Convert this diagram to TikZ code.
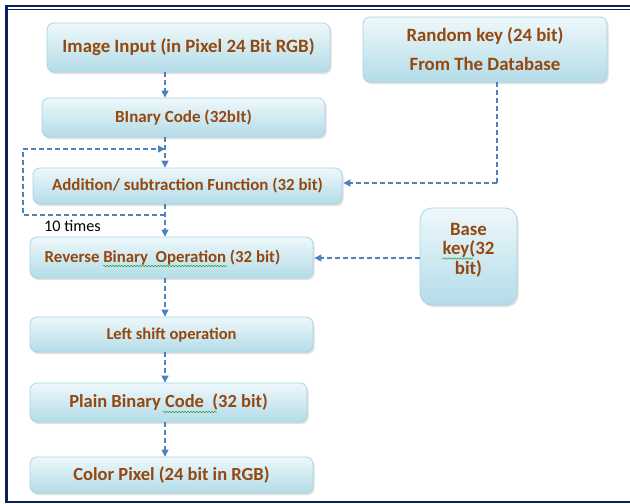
\documentclass[tikz,border=0pt]{standalone}
\usepackage{fontspec}
\setmainfont{Carlito}
\usetikzlibrary{shadows,arrows.meta,decorations.pathmorphing}
\definecolor{navy}{HTML}{0A1F5C}
\definecolor{txt}{HTML}{94470E}
\definecolor{arr}{HTML}{4F81BD}
\definecolor{boxtop}{HTML}{EEF8FB}
\definecolor{boxbot}{HTML}{B3DCE8}
\definecolor{boxedge}{HTML}{A9D5E2}
\definecolor{squig}{HTML}{3A9A3A}
\tikzset{
  flowbox/.style={draw=boxedge, line width=0.8pt, rounded corners=7pt,
    top color=boxtop, bottom color=boxbot,
    drop shadow={shadow xshift=1.5pt, shadow yshift=-2pt, opacity=0.25, fill=gray},
    text=txt, font=\bfseries, align=center, inner sep=0pt},
  flowarr/.style={draw=arr, line width=1.2pt, dash pattern=on 5pt off 3pt,
    -{Triangle[length=7pt,width=7pt]}},
  flowline/.style={draw=arr, line width=1.2pt, dash pattern=on 5pt off 3pt},
  squiggle/.style={draw=squig, line width=0.5pt, decorate,
    decoration={snake, amplitude=0.8pt, segment length=3pt}}
}
\begin{document}
\begin{tikzpicture}[x=1pt,y=-1pt]
\useasboundingbox (0,0) rectangle (630,504);
\fill[white] (0,0) rectangle (630,504);
% frame
\fill[navy] (5,5) rectangle (630,7);
\fill[navy] (8,8.5) rectangle (630,9.5);
\fill[navy] (5,5) rectangle (8,503);
\fill[navy] (5,500.5) rectangle (630,503);
% boxes
\node[flowbox, minimum width=283pt, minimum height=49pt, font=\bfseries\fontsize{18.8}{20}\selectfont] (img) at (188.5,47.5) {Image Input (in Pixel 24 Bit RGB)};
\node[flowbox, minimum width=283pt, minimum height=39pt, font=\bfseries\fontsize{17}{18}\selectfont] (bin) at (183.5,117.5) {BInary Code (32bIt)};
\node[flowbox, minimum width=309pt, minimum height=36pt, font=\bfseries\fontsize{16.9}{18}\selectfont] (add) at (187.5,186) {Addition/ subtraction Function (32 bit)};
\node[flowbox, minimum width=283pt, minimum height=41pt, font=\bfseries\fontsize{16.8}{18}\selectfont] (rev) at (171.5,257.5) {\hspace*{-18pt}Reverse Binary\ \ Operation (32 bit)};
\node[flowbox, minimum width=283pt, minimum height=35pt, font=\bfseries\fontsize{16.5}{18}\selectfont] (left) at (171.5,334.5) {Left shift operation};
\node[flowbox, minimum width=277pt, minimum height=39pt, font=\bfseries\fontsize{18.5}{20}\selectfont] (plain) at (168.5,402.5) {Plain Binary Code\ \ (32 bit)};
\node[flowbox, minimum width=283pt, minimum height=36pt, font=\bfseries\fontsize{18.5}{20}\selectfont] (col) at (171.5,475) {Color Pixel (24 bit in RGB)};
\node[flowbox, minimum width=244pt, minimum height=65pt, font=\bfseries\fontsize{18.8}{29}\selectfont] (rnd) at (485,49.5) {Random key (24 bit)\\From The Database};
\node[flowbox, minimum width=97pt, minimum height=97pt, rounded corners=12pt, font=\bfseries\fontsize{18.8}{18.5}\selectfont] (base) at (468.5,256.5) {\raisebox{1pt}[0pt][0pt]{\begin{tabular}{@{}c@{}}Base\\key(32\\bit)\end{tabular}}};
% spell-check squiggles
\draw[squiggle] (103,266) -- (227,266);
\draw[squiggle] (163,412) -- (217,412);
\draw[squiggle] (442,258.5) -- (473,258.5);
% connectors
\coordinate (c1) at (165,149);
\coordinate (c2) at (165,215);
\coordinate (lpL) at (23,215);
\coordinate (lpT) at (23,149);
\coordinate (rk) at (497,183);
\coordinate (bk) at (420,258);
\draw[flowarr] (img.south -| c1) -- (bin.north -| c1);
\draw[flowarr] (bin.south -| c1) -- (add.north -| c1);
\draw[flowarr] (add.south -| c1) -- (rev.north -| c1);
\draw[flowarr] (rev.south -| c1) -- (left.north -| c1);
\draw[flowarr] (left.south -| c1) -- (plain.north -| c1);
\draw[flowarr] (plain.south -| c1) -- (col.north -| c1);
\draw[flowline] (c2) -- (lpL) -- (lpT);
\draw[flowarr] (lpT) -- (c1);
\draw[flowline] (rnd.south -| rk) -- (rk);
\draw[flowarr] (rk) -- ([xshift=1pt]add.east |- rk);
\draw[flowarr] (base.west |- bk) -- ([xshift=1pt]rev.east |- bk);
\node[anchor=west, font=\fontsize{16.2}{18}\selectfont, inner sep=0pt] (ten) at (44,225.5) {10 times};
\end{tikzpicture}
\end{document}
